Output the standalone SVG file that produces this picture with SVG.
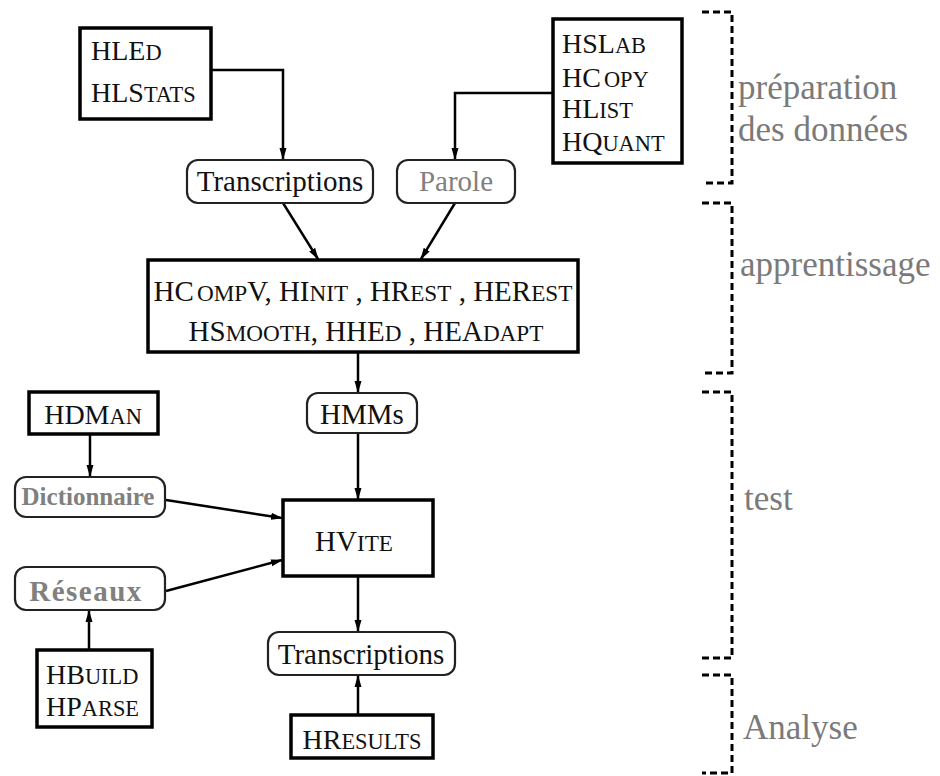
<svg xmlns="http://www.w3.org/2000/svg" width="940" height="776" viewBox="0 0 940 776">
<style>
  .box { fill: #fff; stroke: #000; stroke-width: 3.5; }
  .rbox { fill: #fff; stroke: #222; stroke-width: 2.2; }
  text { font-family: 'Liberation Serif', 'DejaVu Serif', 'Noto Serif', Times, serif; }
  .t { font-size: 28px; fill: #111; }
  .tb { font-size: 29px; fill: #111; }
  .g { fill: #808080; }
  .sc { font-size: 80%; }
  .lab { font-size: 35px; fill: #7a7a7a; }
  .con { fill: none; stroke: #000; stroke-width: 2.5; }
  .br { fill: none; stroke: #000; stroke-width: 3; stroke-dasharray: 7 4; }
</style>
<defs>
  <marker id="ah" markerUnits="userSpaceOnUse" markerWidth="12" markerHeight="8" refX="11" refY="4" orient="auto">
    <path d="M0,0.5 L12,4 L0,7.5 z" fill="#000"/>
  </marker>
</defs>

<g id="connectors">
  <polyline class="con" points="211,70 283,70 283,159" marker-end="url(#ah)"/>
  <polyline class="con" points="553,93 455,93 455,159" marker-end="url(#ah)"/>
  <line class="con" x1="283" y1="203" x2="318" y2="259" marker-end="url(#ah)"/>
  <line class="con" x1="455" y1="203" x2="421" y2="259" marker-end="url(#ah)"/>
  <line class="con" x1="358" y1="352" x2="358" y2="392" marker-end="url(#ah)"/>
  <line class="con" x1="358" y1="433" x2="358" y2="499" marker-end="url(#ah)"/>
  <line class="con" x1="90" y1="434" x2="90" y2="476" marker-end="url(#ah)"/>
  <line class="con" x1="166" y1="500" x2="282" y2="518" marker-end="url(#ah)"/>
  <line class="con" x1="166" y1="591" x2="282" y2="560" marker-end="url(#ah)"/>
  <line class="con" x1="89" y1="650" x2="89" y2="611" marker-end="url(#ah)"/>
  <line class="con" x1="358" y1="576" x2="358" y2="631" marker-end="url(#ah)"/>
  <line class="con" x1="358" y1="715" x2="358" y2="676" marker-end="url(#ah)"/>
</g>

<g id="hled">
  <rect class="box" x="80" y="28" width="131" height="91"/>
  <text class="t" x="91" y="60">HLE<tspan class="sc">D</tspan></text>
  <text class="t" x="91" y="102">HLS<tspan class="sc">TATS</tspan></text>
</g>

<g id="hslab">
  <rect class="box" x="553" y="19" width="129" height="144"/>
  <text class="t" x="562" y="53">HSL<tspan class="sc">AB</tspan></text>
  <text class="t" x="562" y="87">HC<tspan class="sc" dx="3">OPY</tspan></text>
  <text class="t" x="562" y="118">HL<tspan class="sc">IST</tspan></text>
  <text class="t" x="562" y="151">HQ<tspan class="sc">UANT</tspan></text>
</g>

<g id="transcriptions1">
  <rect class="rbox" x="187" y="160" width="186" height="43" rx="11"/>
  <text class="tb" x="280" y="191" text-anchor="middle">Transcriptions</text>
</g>

<g id="parole">
  <rect class="rbox" x="397" y="160" width="118" height="43" rx="11"/>
  <text class="tb g" x="456" y="191" text-anchor="middle">Parole</text>
</g>

<g id="hcompv">
  <rect class="box" x="148" y="260" width="430" height="92"/>
  <text class="tb" x="363" y="301" text-anchor="middle">HC<tspan class="sc" dx="3">OMP</tspan>V, HI<tspan class="sc">NIT</tspan> , HR<tspan class="sc">EST</tspan> , HER<tspan class="sc">EST</tspan></text>
  <text class="tb" x="366" y="341" text-anchor="middle">HS<tspan class="sc">MOOTH</tspan>, HHE<tspan class="sc">D</tspan> , HEA<tspan class="sc">DAPT</tspan></text>
</g>

<g id="hmms">
  <rect class="rbox" x="307" y="393" width="110" height="40" rx="11"/>
  <text class="tb" x="362" y="424" text-anchor="middle">HMMs</text>
</g>

<g id="hdman">
  <rect class="box" x="29" y="392" width="129" height="42"/>
  <text class="t" x="93" y="424" text-anchor="middle">HDM<tspan class="sc">AN</tspan></text>
</g>

<g id="dictionnaire">
  <rect class="rbox" x="15" y="477" width="150" height="40" rx="11"/>
  <text class="t g" x="88" y="505" text-anchor="middle" style="font-size:25px;font-weight:bold">Dictionnaire</text>
</g>

<g id="hvite">
  <rect class="box" x="283" y="500" width="150" height="76"/>
  <text class="tb" x="354" y="551" text-anchor="middle">HV<tspan class="sc">ITE</tspan></text>
</g>

<g id="reseaux">
  <rect class="rbox" x="15" y="567" width="150" height="43" rx="11"/>
  <text class="tb g" x="86" y="601" text-anchor="middle" letter-spacing="1.5" style="font-weight:bold">Réseaux</text>
</g>

<g id="hbuild">
  <rect class="box" x="37" y="650" width="115" height="77"/>
  <text class="t" x="46" y="684">HB<tspan class="sc">UILD</tspan></text>
  <text class="t" x="46" y="716">HP<tspan class="sc">ARSE</tspan></text>
</g>

<g id="transcriptions2">
  <rect class="rbox" x="268" y="632" width="187" height="43" rx="11"/>
  <text class="tb" x="361" y="664" text-anchor="middle">Transcriptions</text>
</g>

<g id="hresults">
  <rect class="box" x="291" y="715" width="142" height="43"/>
  <text class="t" x="362" y="749" text-anchor="middle">HR<tspan class="sc">ESULTS</tspan></text>
</g>

<g id="phases">
  <polyline class="br" points="702,12 732,12 732,183 702,183"/>
  <polyline class="br" points="702,203 732,203 732,373 702,373"/>
  <polyline class="br" points="702,392 732,392 732,658 702,658"/>
  <polyline class="br" points="702,675 732,675 732,773 702,773"/>
  <text class="lab" x="738" y="99">préparation</text>
  <text class="lab" x="738" y="141">des données</text>
  <text class="lab" x="740" y="276">apprentissage</text>
  <text class="lab" x="744" y="510">test</text>
  <text class="lab" x="743" y="739">Analyse</text>
</g>
</svg>
